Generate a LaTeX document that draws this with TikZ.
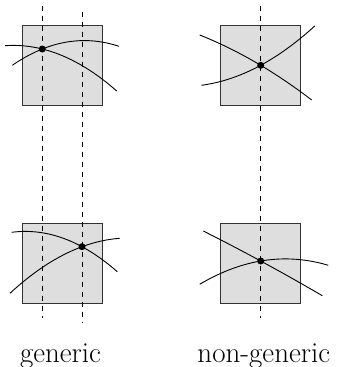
\documentclass[tikz,border=0pt]{standalone}
\begin{document}
\begin{tikzpicture}[x=1pt,y=-1pt,
  box/.style={draw=black!80,fill=black!13,line width=0.9pt},
  curve/.style={line width=0.9pt},
  guide/.style={line width=0.9pt,dash pattern=on 5pt off 5pt},
  dot/.style={circle,fill=black,inner sep=0pt,minimum size=7pt},
  lbl/.style={anchor=base,font=\fontsize{29}{32}\selectfont}]
\useasboundingbox (0,0) rectangle (338,367);
% squares
\draw[box] (22.7,25.7) rectangle (102,105.3);
\draw[box] (220.7,25.7) rectangle (300,105.3);
\draw[box] (22.7,223.7) rectangle (102,303.3);
\draw[box] (220.7,223.7) rectangle (300,303.3);
% guide lines
\coordinate (g1t) at (42.3,5.7); \coordinate (g1b) at (42.3,318);
\coordinate (g2t) at (82,11.7);  \coordinate (g2b) at (82,323);
\coordinate (n1t) at (260.7,5.7); \coordinate (n1b) at (260.7,318.3);
\draw[guide] (g1t) -- (g1b);
\draw[guide] (g2t) -- (g2b);
\draw[guide] (n1t) -- (n1b);
% top-left curves
\draw[curve] (5,45.7) .. controls (42.23,43.07) and (79.47,58.17) .. (116.7,91);
\draw[curve] (12.3,65.3) .. controls (47.87,40.89) and (83.43,34.56) .. (119,46.3);
\node[dot] (p1) at (42.3,49) {};
% top-right curves
\draw[curve] (199.7,35) .. controls (237.03,49.8) and (274.37,71.47) .. (311.7,100);
\draw[curve] (201.3,85.3) .. controls (239.1,80.31) and (276.9,60.55) .. (314.7,26);
\node[dot] (p2) at (260.7,65.3) {};
% bottom-left curves
\draw[curve] (11.7,232.3) .. controls (46.9,227.71) and (82.1,240.85) .. (117.3,271.7);
\draw[curve] (10,293.3) .. controls (46.57,259.45) and (83.13,241.11) .. (119.7,238.3);
\node[dot] (p3) at (82,246.7) {};
% bottom-right curves
\draw[curve] (203.3,231) .. controls (242.97,250.95) and (282.63,272.51) .. (322.3,295.7);
\draw[curve] (199.7,284.3) .. controls (242.57,258.87) and (285.43,252.53) .. (328.3,265.3);
\node[dot] (p4) at (260.7,261) {};
% labels
\node[lbl] (l1) at (60.5,362) {generic};
\node[lbl] (l2) at (263.8,362) {non-generic};
\end{tikzpicture}
\end{document}
